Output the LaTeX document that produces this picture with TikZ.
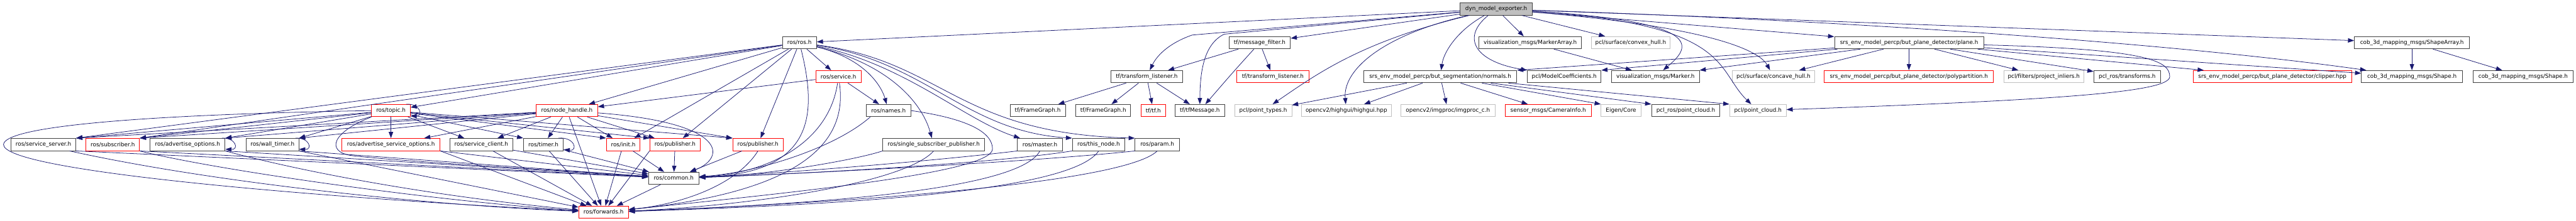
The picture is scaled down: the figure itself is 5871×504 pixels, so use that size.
\documentclass[tikz,border=0pt]{standalone}
\usepackage{fontspec}
\setmainfont{DejaVu Sans}
\usetikzlibrary{arrows.meta}
\definecolor{edgeblue}{HTML}{191970}
\definecolor{boxgray}{HTML}{404040}
\definecolor{extgray}{HTML}{BFBFBF}
\definecolor{truncred}{HTML}{FF0000}
\definecolor{rootfill}{HTML}{BFBFBF}
\begin{document}
\begin{tikzpicture}[x=1pt, y=-1pt,
    incbox/.style={rectangle, draw=boxgray, fill=white, line width=1.3pt,
                   minimum height=28pt, inner sep=0pt, font=\fontsize{12.7}{15}\selectfont},
    redbox/.style={incbox, draw=truncred},
    extbox/.style={incbox, draw=extgray},
    rootbox/.style={incbox, fill=rootfill},
    dep/.style={-{Triangle[length=14pt, width=10pt]}, draw=edgeblue, line width=1.1pt}
]
\useasboundingbox (0,0) rectangle (5871,504);

%% All nodes placed at explicit absolute coordinates %%

% Row 0: the documented file
\node[rootbox, minimum width=164pt] (dyn) at (3410,20.5) {dyn\_model\_exporter.h};

% Row 1
\node[incbox, minimum width=78pt]  (rosros)      at (1822,97.5)   {ros/ros.h};
\node[incbox, minimum width=140pt] (msgfilter)   at (2871,97.5)   {tf/message\_filter.h};
\node[incbox, minimum width=233pt] (markerarray) at (3487.5,97.5) {visualization\_msgs/MarkerArray.h};
\node[extbox, minimum width=179pt] (convexhull)  at (3716.5,97.5) {pcl/surface/convex\_hull.h};
\node[incbox, minimum width=340pt] (plane)       at (4351,97.5)   {srs\_env\_model\_percp/but\_plane\_detector/plane.h};
\node[incbox, minimum width=262pt] (shapearray)  at (5497,97.5)   {cob\_3d\_mapping\_msgs/ShapeArray.h};

% Row 2
\node[redbox, minimum width=104pt] (service)     at (1911,175)   {ros/service.h};
\node[incbox, minimum width=163pt] (tflistener)  at (2613.5,175) {tf/transform\_listener.h};
\node[redbox, minimum width=164pt] (tflistenerb) at (2901,175)   {tf/transform\_listener.h};
\node[incbox, minimum width=349pt] (normals)     at (3282.5,175) {srs\_env\_model\_percp/but\_segmentation/normals.h};
\node[incbox, minimum width=168pt] (modelcoeff)  at (3565,175)   {pcl/ModelCoefficients.h};
\node[incbox, minimum width=200pt] (marker)      at (3773,175)   {visualization\_msgs/Marker.h};
\node[extbox, minimum width=188pt] (concavehull) at (4042,175)   {pcl/surface/concave\_hull.h};
\node[redbox, minimum width=385pt] (polypart)    at (4350.5,175) {srs\_env\_model\_percp/but\_plane\_detector/polypartition.h};
\node[extbox, minimum width=182pt] (projinliers) at (4658,175)   {pcl/filters/project\_inliers.h};
\node[incbox, minimum width=152pt] (transforms)  at (4848,175)   {pcl\_ros/transforms.h};
\node[redbox, minimum width=362pt] (clipper)     at (5179,175)   {srs\_env\_model\_percp/but\_plane\_detector/clipper.hpp};
\node[incbox, minimum width=230pt] (shapea)      at (5497,175)   {cob\_3d\_mapping\_msgs/Shape.h};
\node[incbox, minimum width=229pt] (shapeb)      at (5750.5,175) {cob\_3d\_mapping\_msgs/Shape.h};

% Row 3
\node[redbox, minimum width=88pt]  (topic)       at (891,252.5)    {ros/topic.h};
\node[redbox, minimum width=140pt] (nodehandle)  at (1292,252.5)   {ros/node\_handle.h};
\node[incbox, minimum width=102pt] (names)       at (2025,252.5)   {ros/names.h};
\node[incbox, minimum width=126pt] (framegrapha) at (2365,252.5)   {tf/FrameGraph.h};
\node[incbox, minimum width=125pt] (framegraphb) at (2514.5,252.5) {tf/FrameGraph.h};
\node[redbox, minimum width=55pt]  (tftf)        at (2628.5,252.5) {tf/tf.h};
\node[incbox, minimum width=113pt] (tfmessage)   at (2734.5,252.5) {tf/tfMessage.h};
\node[extbox, minimum width=130pt] (pointtypes)  at (2879,252.5)   {pcl/point\_types.h};
\node[extbox, minimum width=205pt] (highgui)     at (3068.5,252.5) {opencv2/highgui/highgui.hpp};
\node[extbox, minimum width=214pt] (imgproc)     at (3300,252.5)   {opencv2/imgproc/imgproc\_c.h};
\node[redbox, minimum width=197pt] (camerainfo)  at (3528.5,252.5) {sensor\_msgs/CameraInfo.h};
\node[extbox, minimum width=91pt]  (eigen)       at (3694.5,252.5) {Eigen/Core};
\node[incbox, minimum width=156pt] (pclrospc)    at (3842,252.5)   {pcl\_ros/point\_cloud.h};
\node[extbox, minimum width=129pt] (pointcloud)  at (4006.5,252.5) {pcl/point\_cloud.h};

% Row 4
\node[incbox, minimum width=148pt] (srvserver)  at (99,330)     {ros/service\_server.h};
\node[redbox, minimum width=122pt] (subscriber) at (257,330)    {ros/subscriber.h};
\node[incbox, minimum width=171pt] (advopts)    at (427.5,330)  {ros/advertise\_options.h};
\node[incbox, minimum width=120pt] (walltimer)  at (621,330)    {ros/wall\_timer.h};
\node[redbox, minimum width=224pt] (advsrvopts) at (891,330)    {ros/advertise\_service\_options.h};
\node[incbox, minimum width=144pt] (srvclient)  at (1097,330)   {ros/service\_client.h};
\node[incbox, minimum width=91pt]  (timer)      at (1238.5,330) {ros/timer.h};
\node[redbox, minimum width=77pt]  (init)       at (1420.5,330) {ros/init.h};
\node[redbox, minimum width=115pt] (publishera) at (1538.5,330) {ros/publisher.h};
\node[redbox, minimum width=115pt] (publisherb) at (1727.5,330) {ros/publisher.h};
\node[incbox, minimum width=232pt] (ssp)        at (2128,330)   {ros/single\_subscriber\_publisher.h};
\node[incbox, minimum width=102pt] (master)     at (2370,330)   {ros/master.h};
\node[incbox, minimum width=120pt] (thisnode)   at (2504,330)   {ros/this\_node.h};
\node[incbox, minimum width=101pt] (param)      at (2637.5,330) {ros/param.h};

% Rows 5 and 6
\node[incbox, minimum width=115pt] (common)   at (1535.5,407)   {ros/common.h};
\node[redbox, minimum width=113pt] (forwards) at (1375.5,484.5) {ros/forwards.h};

\coordinate (farleft) at (8,330);
\coordinate (bendlist) at (2717,80);
\coordinate (bendmsg)  at (2790,78);

%% Arrows %%

% dyn_model_exporter.h includes
\draw[dep] (dyn) -- (rosros);
\draw[dep] (dyn) -- (msgfilter);
\draw[dep] (dyn) -- (bendlist) .. controls (2660,100) and (2635,130) .. (tflistener);
\draw[dep] (dyn) -- (bendmsg) .. controls (2745,100) and (2735,160) .. (tfmessage);
\draw[dep] (dyn) .. controls (3100,95) and (3000,170) .. (pointtypes);
\draw[dep] (dyn) .. controls (3150,80) and (3060,160) .. (highgui);
\draw[dep] (dyn) .. controls (3320,70) and (3290,120) .. (normals);
\draw[dep] (dyn) .. controls (3330,85) and (3360,140) .. (modelcoeff.north west);
\draw[dep] (dyn) -- (markerarray);
\draw[dep] (dyn) -- (convexhull);
\draw[dep] (dyn) .. controls (3900,50) and (3850,110) .. (marker);
\draw[dep] (dyn) .. controls (3950,55) and (3910,160) .. (pointcloud);
\draw[dep] (dyn) -- (plane);
\draw[dep] (dyn) .. controls (3940,65) and (4015,125) .. (concavehull);
\draw[dep] (dyn) -- (shapearray);
\draw[dep] (dyn) .. controls (4300,50) and (5000,105) .. (shapea);

% tf headers
\draw[dep] (msgfilter) -- (tflistener);
\draw[dep] (msgfilter) .. controls (2810,165) .. (tfmessage);
\draw[dep] (msgfilter) -- (tflistenerb);
\draw[dep] (tflistener) -- (framegrapha);
\draw[dep] (tflistener) -- (framegraphb);
\draw[dep] (tflistener) -- (tftf);
\draw[dep] (tflistener) -- (tfmessage);

% visualization and segmentation
\draw[dep] (markerarray) -- (marker);
\draw[dep] (normals) -- (pointtypes);
\draw[dep] (normals) -- (highgui);
\draw[dep] (normals) -- (imgproc);
\draw[dep] (normals) -- (camerainfo);
\draw[dep] ([xshift=-80pt]normals.south east) -- (eigen.north west);
\draw[dep] ([xshift=-60pt]normals.south east) -- (pclrospc.north west);
\draw[dep] ([xshift=-20pt]normals.south east) -- (pointcloud.north west);

% plane detector
\draw[dep] (plane) -- (normals.north east);
\draw[dep] (plane) -- (modelcoeff.north east);
\draw[dep] (plane) -- (marker.north east);
\draw[dep] (plane) -- (concavehull);
\draw[dep] (plane) -- (polypart);
\draw[dep] (plane) -- (projinliers);
\draw[dep] (plane) -- (transforms);
\draw[dep] (plane) -- (clipper);
\draw[dep] (plane) -- (shapea);
\draw[dep] ([yshift=-5pt]plane.east) .. controls (4900,112) and (4945,140) .. (4945,175)
           .. controls (4945,210) and (4700,228) .. (pointcloud);
\draw[dep] (shapearray) -- (shapea);
\draw[dep] (shapearray) -- (shapeb);

% ros/ros.h includes
\draw[dep] (rosros) -- (srvserver.north east);
\draw[dep] (rosros) -- (subscriber.north east);
\draw[dep] (rosros) -- (topic);
\draw[dep] (rosros) -- (nodehandle);
\draw[dep] (rosros) -- (init);
\draw[dep] (rosros) -- (publishera);
\draw[dep] (rosros) -- (publisherb);
\draw[dep] (rosros) -- (service);
\draw[dep] (rosros) .. controls (1865,270) and (1850,395) .. (common);
\draw[dep] (rosros) .. controls (1975,135) and (2010,200) .. (names);
\draw[dep] (rosros) .. controls (2020,145) and (2100,230) .. (ssp);
\draw[dep] (rosros) .. controls (2060,145) and (2200,275) .. (master);
\draw[dep] (rosros) .. controls (2110,140) and (2200,300) .. (thisnode.north west);
\draw[dep] (rosros) .. controls (2150,140) and (2180,305) .. (param.north west);

% ros/service.h includes
\draw[dep] (service) -- (names);
\draw[dep] (service) -- (nodehandle);
\draw[dep] (service) .. controls (1890,320) and (1760,395) .. (common);
\draw[dep] (service) .. controls (1935,340) and (1800,440) .. (forwards);

% ros/topic.h includes
\draw[dep] (topic) -- (advsrvopts);
\draw[dep] (topic) -- (walltimer.north east);
\draw[dep] (topic) -- (advopts.north east);
\draw[dep] (topic) -- (subscriber.north east);
\draw[dep] (topic) -- (srvserver.north east);
\draw[dep] (topic) -- (srvclient);
\draw[dep] (topic) -- (timer.north west);
\draw[dep] (topic) -- (init.north west);
\draw[dep] (topic) -- (publishera.north west);
\draw[dep] (topic) -- (publisherb.north west);
\draw[dep] (topic.south west) .. controls (760,300) and (740,345) .. (800,355)
           .. controls (900,368) and (1300,390) .. (common);
\draw[dep] (topic.west) .. controls (300,262) and (10,290) .. (farleft)
           .. controls (8,390) and (700,450) .. (forwards);
\draw[dep] ([xshift=-10pt]topic.north east) .. controls (958,236) and (965,265) .. ([yshift=2pt]topic.south east);

% ros/node_handle.h includes
\draw[dep] (nodehandle) -- (srvserver.north east);
\draw[dep] (nodehandle) -- (subscriber.north east);
\draw[dep] (nodehandle) -- (advopts.north east);
\draw[dep] (nodehandle) -- (walltimer.north east);
\draw[dep] (nodehandle) -- (advsrvopts);
\draw[dep] (nodehandle) -- (srvclient);
\draw[dep] (nodehandle) -- (timer);
\draw[dep] (nodehandle) -- (init);
\draw[dep] (nodehandle) -- (publishera);
\draw[dep] (nodehandle) -- (publisherb.north west);
\draw[dep] (nodehandle) -- (forwards);
\draw[dep] (nodehandle) .. controls (1660,280) and (1655,360) .. (common);

% self references
\draw[dep] ([xshift=-8pt]advopts.north east) .. controls (538,314) and (545,342) .. ([yshift=4pt]advopts.south east);
\draw[dep] ([xshift=-8pt]walltimer.north east) .. controls (706,314) and (713,342) .. ([yshift=4pt]walltimer.south east);
\draw[dep] ([xshift=-12pt]timer.north east) .. controls (1310,312) and (1318,345) .. ([yshift=3pt]timer.south east);

% left row -> common.h / forwards.h
\draw[dep] (srvserver.south east) -- (common);
\draw[dep] ([xshift=-15pt]srvserver.south east) .. controls (500,420) and (1000,470) .. (forwards);
\draw[dep] (subscriber.south east) -- (common);
\draw[dep] (subscriber.south east) .. controls (500,390) and (1000,460) .. (forwards);
\draw[dep] (advopts.south east) -- (common);
\draw[dep] (advopts.south east) .. controls (700,395) and (1000,450) .. (forwards);
\draw[dep] (walltimer.south east) -- (common);
\draw[dep] (walltimer.south east) -- (forwards);
\draw[dep] (advsrvopts.south east) -- (common);
\draw[dep] (advsrvopts.south east) -- (forwards);
\draw[dep] (srvclient) -- (common);
\draw[dep] (srvclient) -- (forwards);
\draw[dep] (timer) -- (common);
\draw[dep] (timer) -- (forwards);
\draw[dep] (init) -- (common);
\draw[dep] (init) -- (forwards);
\draw[dep] (publishera) -- (common);
\draw[dep] (publishera.south west) -- (forwards);
\draw[dep] (publisherb) -- (common);
\draw[dep] (publisherb.south) .. controls (1680,420) and (1560,465) .. (forwards);

% right row -> common.h / forwards.h
\draw[dep] ([xshift=10pt]names.south west) .. controls (1900,340) and (1720,395) .. (common);
\draw[dep] (names.east) .. controls (2200,270) and (2262,300) .. (2262,340)
           .. controls (2262,395) and (1800,440) .. (forwards);
\draw[dep] (ssp.south west) .. controls (1950,365) and (1750,400) .. (common);
\draw[dep] (ssp.south) .. controls (2060,420) and (1700,470) .. (forwards);
\draw[dep] (master.south west) .. controls (2150,365) and (1800,395) .. (common);
\draw[dep] (master.south) .. controls (2320,440) and (1800,468) .. (forwards);
\draw[dep] (thisnode.south west) .. controls (2250,375) and (1800,398) .. (common);
\draw[dep] (thisnode.south) .. controls (2440,440) and (1900,468) .. (forwards);
\draw[dep] (param.south west) .. controls (2350,370) and (1800,398) .. (common);
\draw[dep] (param.south) .. controls (2560,420) and (1900,465) .. (forwards);
\draw[dep] (common) -- (forwards);

\end{tikzpicture}
\end{document}
